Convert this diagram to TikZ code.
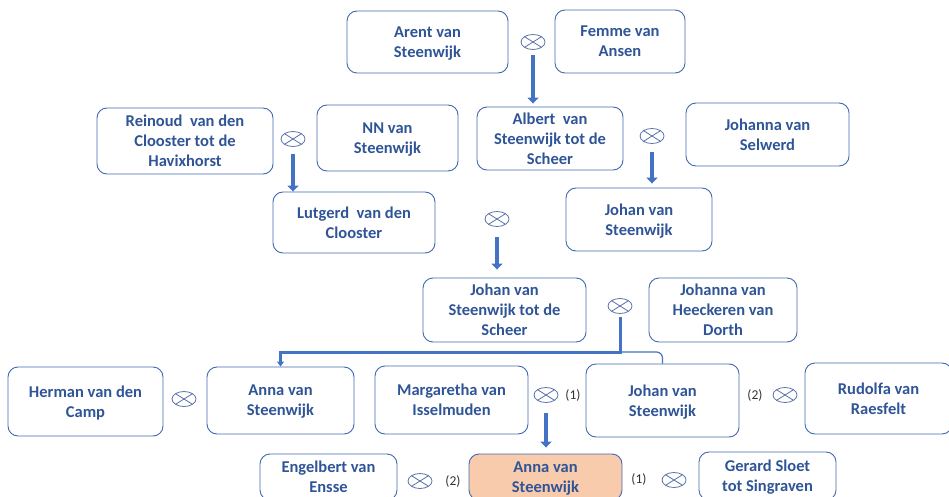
\documentclass[tikz,border=0pt]{standalone}
\usepackage{fontspec}
\setmainfont{Carlito}
\usetikzlibrary{arrows.meta,shapes.geometric}
\definecolor{namecol}{HTML}{2F5597}
\definecolor{boxcol}{HTML}{4068B0}
\definecolor{linkcol}{HTML}{4472C4}
\definecolor{ringcol}{HTML}{5A72A6}
\definecolor{egocol}{HTML}{F8CBAD}
\tikzset{
    person/.style={draw=boxcol, line width=0.9pt, rounded corners=10pt, align=center,
        text=namecol, font=\fontsize{16.5}{20}\selectfont\bfseries, inner sep=0pt,
        text depth=-1pt},
    ego/.style={person, fill=egocol},
    otimes/.style={ellipse, draw=ringcol, line width=0.8pt, minimum width=24pt,
        minimum height=15pt, inner sep=0pt,
        path picture={\draw[ringcol, line width=0.8pt]
            (path picture bounding box.north west) -- (path picture bounding box.south east)
            (path picture bounding box.north east) -- (path picture bounding box.south west);}},
    descent/.style={draw=linkcol, line width=4pt, -{Triangle[width=11pt,length=6pt]}},
    order/.style={font=\fontsize{13.5}{15}\selectfont, text=black!80}
}
\begin{document}
\begin{tikzpicture}[x=1pt,y=-1pt]
        \useasboundingbox (0,0) rectangle (949,497);
        %% persons
        \node[person, minimum width=161pt, minimum height=62pt] (arent) at (427.5,42) {Arent van\\Steenwijk};
        \node[person, minimum width=130pt, minimum height=63pt] (femme) at (620,41.5) {Femme van\\Ansen};
        \node[person, minimum width=176pt, minimum height=66pt] (reinoud) at (185,141) {Reinoud~ van den\\Clooster tot de\\Havixhorst};
        \node[person, minimum width=141pt, minimum height=66pt] (nn) at (387.5,138) {NN van\\Steenwijk};
        \node[person, minimum width=146pt, minimum height=63pt] (albert) at (550,138.5) {Albert~ van\\Steenwijk tot de\\Scheer};
        \node[person, minimum width=163pt, minimum height=63pt] (selwerd) at (767.5,134.5) {Johanna van\\Selwerd};
        \node[person, minimum width=162pt, minimum height=61pt] (lutgerd) at (354,222.5) {Lutgerd~ van den\\Clooster};
        \node[person, minimum width=146pt, minimum height=63pt] (johanup) at (639,219.5) {Johan van\\Steenwijk};
        \node[person, minimum width=163pt, minimum height=64pt] (johanscheer) at (504.5,310) {Johan van\\Steenwijk tot de\\Scheer};
        \node[person, minimum width=148pt, minimum height=64pt] (heeckeren) at (723,310) {Johanna van\\Heeckeren van\\Dorth};
        \node[person, minimum width=155pt, minimum height=69pt] (herman) at (85.5,401.5) {Herman van den\\Camp};
        \node[person, minimum width=147pt, minimum height=67pt] (annamid) at (280.5,400.5) {Anna van\\Steenwijk};
        \node[person, minimum width=153pt, minimum height=68pt] (margaretha) at (451.5,400) {Margaretha van\\Isselmuden};
        \node[person, minimum width=153pt, minimum height=73pt] (johanlow) at (662.5,400.5) {Johan van\\Steenwijk};
        \node[person, minimum width=147pt, minimum height=71pt] (rudolfa) at (878.5,398.5) {Rudolfa van\\Raesfelt};
        \node[person, minimum width=137pt, minimum height=46pt] (engelbert) at (328.5,477) {Engelbert van\\Ensse};
        \node[ego, minimum width=153pt, minimum height=46pt] (anna) at (545.5,477) {Anna van\\Steenwijk};
        \node[person, minimum width=137pt, minimum height=48pt] (gerard) at (767.5,476) {Gerard Sloet\\tot Singraven};
        %% marriages
        \foreach \m/\x/\y in {m1/533/42,m2/293/139,m3/652/136,m4/497/219,m5/620/306,
                              m6/184/399,m7/546/395,m8/785/395,m9/420/481,m10/674/480} {
            \node[otimes] (\m) at (\x,\y) {};
        }
        \foreach \x/\y/\t in {573/395/1,755/395/2,453/481/2,639/479/1} {
            \node[order] at (\x,\y) {(\t)};
        }
        %% descent
        \foreach \m/\p/\a/\b in {m1/albert/5.5pt/3pt,m2/lutgerd/7.5pt/0pt,m3/johanup/8.5pt/4pt,
                                 m4/johanscheer/10.5pt/8pt,m7/anna/10.5pt/6pt} {
            \draw[descent, shorten <=\a, shorten >=\b] (\m.south) -- (\m.south |- \p.north);
        }
        \coordinate (fork) at (620,352);
        \draw[linkcol, line width=1.2pt, rounded corners=6pt] (fork) -| (johanlow.north);
        \draw[descent, line width=3pt, -{Triangle[width=7pt,length=5pt]}, shorten <=3.5pt]
            (m5.south) -- (fork) -| (annamid.north);
    \end{tikzpicture}
\end{document}
